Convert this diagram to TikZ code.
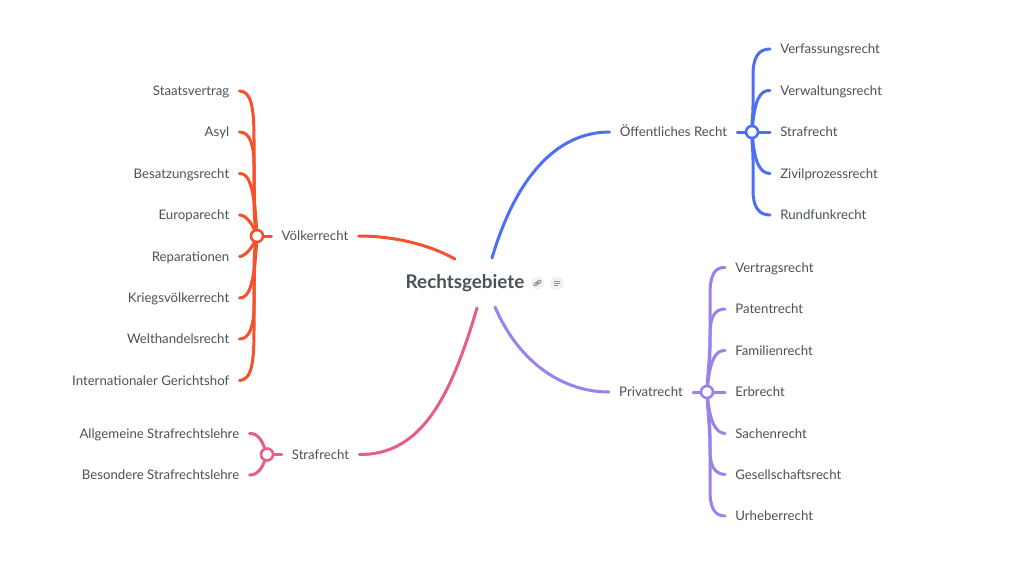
\documentclass[tikz,border=0pt]{standalone}
\usepackage{fontspec}
\setmainfont{Lato}
\definecolor{inktext}{HTML}{4B5158}
\definecolor{redline}{HTML}{F4512C}
\definecolor{blueline}{HTML}{4C6FF5}
\definecolor{purpleline}{HTML}{9C80EE}
\definecolor{pinkline}{HTML}{E85C8A}
\definecolor{iconfill}{HTML}{F0F1F2}
\definecolor{iconink}{HTML}{8A8F94}
\begin{document}
\begin{tikzpicture}[
    x=0.025cm, y=-0.025cm,
    lbl/.style={text=inktext, font=\fontsize{9.4}{11}\selectfont, inner xsep=0.25cm, inner ysep=1pt, text height=8.4pt, text depth=2pt},
    lftlbl/.style={lbl, anchor=east},
    rgtlbl/.style={lbl, anchor=west},
    midlbl/.style={lbl},
    hub/.style={draw, circle, fill=white, line width=0.65mm, minimum size=0.3cm, inner sep=0pt},
    arr/.style={line width=0.75mm, line cap=round},
    icon/.style={circle, fill=iconfill, minimum size=0.33cm, inner sep=0pt},
    glyph/.style={iconink, line width=0.25mm},
]
\useasboundingbox (0,0) rectangle (1024,561);

% Root
\node[text=inktext, font=\fontsize{13.4}{15}\selectfont\bfseries, inner sep=0pt] (root) at (465,283.5) {Rechtsgebiete};
\node[icon] (linkicon) at (537.5,283) {};
\node[icon] (noteicon) at (557,283) {};
\draw[glyph, rotate around={35:(linkicon.center)}] ([xshift=-0.04cm]linkicon.center) ellipse (0.06cm and 0.035cm);
\draw[glyph, rotate around={35:(linkicon.center)}] ([xshift=0.04cm]linkicon.center) ellipse (0.06cm and 0.035cm);
\draw[glyph] ([shift={(-3,-2)}]noteicon.center) -- ([shift={(3,-2)}]noteicon.center);
\draw[glyph] ([shift={(-3,0)}]noteicon.center) -- ([shift={(3,0)}]noteicon.center);
\draw[glyph] ([shift={(-3,2)}]noteicon.center) -- ([shift={(1,2)}]noteicon.center);

% Free ends at the root
\coordinate (rootnw) at (455,259);
\coordinate (rootne) at (492,258);
\coordinate (rootse) at (495,307);
\coordinate (rootsw) at (477,308);

% Branch labels
\node[midlbl] (voelk) at (315,236) {Völkerrecht};
\node[midlbl] (oeff)  at (673.5,132) {Öffentliches Recht};
\node[midlbl] (priv)  at (651,392) {Privatrecht};
\node[midlbl] (straf) at (320.5,454.5) {Strafrecht};

% Hubs
\node[hub, draw=redline]    (voelkhub) at (257,236) {};
\node[hub, draw=blueline]   (oeffhub)  at (752,132) {};
\node[hub, draw=purpleline] (privhub)  at (707,392) {};
\node[hub, draw=pinkline]   (strafhub) at (267,454.5) {};

% Voelkerrecht leaves
\node[lftlbl] (staat) at (239.5,91)  {Staatsvertrag};
\node[lftlbl] (asyl)  at (239.5,132) {Asyl};
\node[lftlbl] (besatz) at (239.5,173.5) {Besatzungsrecht};
\node[lftlbl] (europa) at (239.5,215) {Europarecht};
\node[lftlbl] (repar) at (239.5,256.5) {Reparationen};
\node[lftlbl] (krieg) at (239.5,298) {Kriegsvölkerrecht};
\node[lftlbl] (welt)  at (239.5,339) {Welthandelsrecht};
\node[lftlbl] (inter) at (239.5,380.5) {Internationaler Gerichtshof};

% Oeffentliches Recht leaves
\node[rgtlbl] (verf)  at (770,49)  {Verfassungsrecht};
\node[rgtlbl] (verw)  at (770,90.5) {Verwaltungsrecht};
\node[rgtlbl] (strafo) at (770,132) {Strafrecht};
\node[rgtlbl] (zivil) at (770,173.5) {Zivilprozessrecht};
\node[rgtlbl] (rund)  at (770,215) {Rundfunkrecht};

% Privatrecht leaves
\node[rgtlbl] (vertr) at (725,267.5) {Vertragsrecht};
\node[rgtlbl] (patent) at (725,309) {Patentrecht};
\node[rgtlbl] (famil) at (725,350.5) {Familienrecht};
\node[rgtlbl] (erb)   at (725,392) {Erbrecht};
\node[rgtlbl] (sachen) at (725,433.5) {Sachenrecht};
\node[rgtlbl] (gesell) at (725,474.5) {Gesellschaftsrecht};
\node[rgtlbl] (urheb) at (725,516) {Urheberrecht};

% Strafrecht leaves
\node[lftlbl] (allg) at (249.5,433.5) {Allgemeine Strafrechtslehre};
\node[lftlbl] (bes)  at (249.5,475) {Besondere Strafrechtslehre};

% Edges from the root
\draw[arr, redline] (voelk.east) .. controls (395,236) and (430,245) .. (rootnw);
\draw[arr, blueline] (rootne) .. controls (515,180) and (555,132) .. (oeff.west);
\draw[arr, purpleline] (rootse) .. controls (520,365) and (565,392) .. (priv.west);
\draw[arr, pinkline] (straf.east) .. controls (420,455) and (450,400) .. (rootsw);

% Edges to the branch labels
\draw[arr, redline] (voelkhub) -- (voelk.west);
\draw[arr, blueline] (oeff.east) -- (oeffhub);
\draw[arr, purpleline] (priv.east) -- (privhub);
\draw[arr, pinkline] (strafhub) -- (straf.west);

% Red edges
\draw[arr, redline] (staat.east) .. controls (252,91) and (254,110) .. (254,140) -- (254,200) .. controls (254,215) and (255,225) .. (voelkhub);
\draw[arr, redline] (asyl.east) .. controls (250,132) and (254,145) .. (254,165) .. controls (254,195) and (255,215) .. (voelkhub);
\draw[arr, redline] (besatz.east) .. controls (250,173) and (254,190) .. (voelkhub);
\draw[arr, redline] (europa.east) .. controls (246,215) and (252,224) .. (voelkhub);
\draw[arr, redline] (repar.east) .. controls (246,256) and (252,247) .. (voelkhub);
\draw[arr, redline] (krieg.east) .. controls (250,298) and (254,282) .. (voelkhub);
\draw[arr, redline] (welt.east) .. controls (250,339) and (254,325) .. (254,305) .. controls (254,275) and (255,255) .. (voelkhub);
\draw[arr, redline] (inter.east) .. controls (252,380) and (254,361) .. (254,330) -- (254,270) .. controls (254,255) and (255,247) .. (voelkhub);

% Blue edges
\draw[arr, blueline] (verf.west) .. controls (758,49) and (753,58) .. (753,75) -- (753,105) .. controls (753,115) and (752,120) .. (oeffhub);
\draw[arr, blueline] (verw.west) .. controls (760,90) and (755,100) .. (oeffhub);
\draw[arr, blueline] (strafo.west) -- (oeffhub);
\draw[arr, blueline] (zivil.west) .. controls (760,173) and (755,163) .. (oeffhub);
\draw[arr, blueline] (rund.west) .. controls (758,215) and (753,206) .. (753,190) -- (753,160) .. controls (753,150) and (752,144) .. (oeffhub);

% Purple edges
\draw[arr, purpleline] (vertr.west) .. controls (714,267) and (710,276) .. (710,295) -- (710,350) .. controls (710,365) and (708,375) .. (privhub);
\draw[arr, purpleline] (patent.west) .. controls (714,309) and (710,318) .. (710,335) .. controls (710,355) and (708,370) .. (privhub);
\draw[arr, purpleline] (famil.west) .. controls (715,350) and (710,362) .. (privhub);
\draw[arr, purpleline] (erb.west) -- (privhub);
\draw[arr, purpleline] (sachen.west) .. controls (715,433) and (710,420) .. (privhub);
\draw[arr, purpleline] (gesell.west) .. controls (714,474) and (710,465) .. (710,450) .. controls (710,430) and (708,415) .. (privhub);
\draw[arr, purpleline] (urheb.west) .. controls (714,516) and (710,507) .. (710,490) -- (710,435) .. controls (710,420) and (708,410) .. (privhub);

% Pink edges
\draw[arr, pinkline] (allg.east) .. controls (258,433) and (262,441) .. (strafhub);
\draw[arr, pinkline] (bes.east) .. controls (258,475) and (262,468) .. (strafhub);

\end{tikzpicture}
\end{document}
